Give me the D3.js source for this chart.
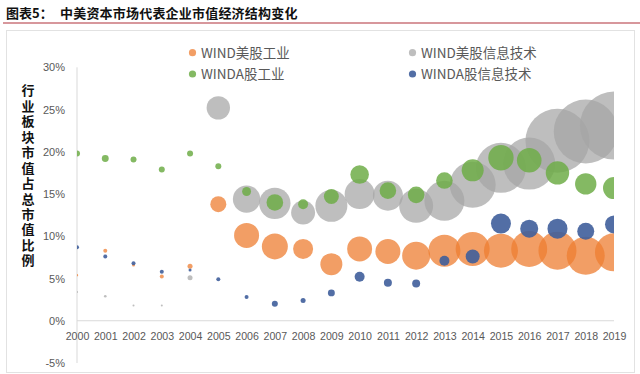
<!DOCTYPE html>
<html><head><meta charset="utf-8">
<script src="https://cdn.jsdelivr.net/npm/d3@7"></script>
<style>
body{margin:0;background:#fff;}
svg{display:block;}
</style></head>
<body>
<svg id="chart" width="640" height="374"></svg>
<script>
// ---- data ----
const years = [2000,2001,2002,2003,2004,2005,2006,2007,2008,2009,2010,2011,2012,2013,2014,2015,2016,2017,2018,2019];
const yTicks = [-5,0,5,10,15,20,25,30];
const seriesNames = ["WIND美股工业","WIND美股信息技术","WINDA股工业","WINDA股信息技术"];
const seriesColors = ["#ED7D31","#A5A5A5","#6EAD48","#3F5E9B"];
// share of total market cap (%)
const usIndustry = [5.4,8.3,6.6,5.25,6.45,13.8,10.1,8.8,8.5,6.7,8.5,8.2,7.7,8.3,8.5,8.3,8.5,8.3,7.7,8.1];
const usIT       = [3.4,2.9,1.8,1.8,5.1,25.2,14.4,13.9,12.8,13.6,15.0,14.8,13.6,14.2,16.1,18.1,18.6,21.3,22.4,23.1];
const aIndustry  = [19.8,19.2,19.1,17.9,19.8,18.3,15.3,14.0,13.8,14.7,17.3,15.4,14.9,16.6,17.8,19.3,19.0,17.5,16.2,15.7];
const aIT        = [8.7,7.6,6.8,5.8,6.0,4.9,2.8,2.0,2.4,3.3,5.2,4.5,4.4,7.1,7.6,11.5,10.9,10.9,10.6,11.4];
// bubble size (relative market cap)
const usIndustrySize = [1.4,4,2.3,4,6.3,64,156,169,100,121,156,156,196,256,289,289,324,361,361,361];
const usITSize       = [1,1.7,1,1,6.3,137,188,246,144,256,225,225,289,400,529,625,676,1024,1024,1156];
const aIndustrySize  = [9,12,9,9,9,9,20,69,25,56,86,69,69,69,121,161,151,137,114,121];
const aITSize        = [4,4,4,4,2.3,4,4,9,6.3,12,25,16,16,25,49,100,81,100,72,81];
const yTitle = "行业板块市值占总市值比例";

const seriesValues = [usIndustry, usIT, aIndustry, aIT];
const seriesSizes = [usIndustrySize, usITSize, aIndustrySize, aITSize];

// ---- layout ----
const svg = d3.select("#chart");
const plot = {left:77, right:614, top:67.3, bottom:363};

const x = d3.scaleLinear().domain([2000,2019]).range([plot.left, plot.right]);
const y = d3.scaleLinear().domain([-5,30]).range([plot.bottom, plot.top]);
const r = d3.scaleSqrt().domain([0,1156]).range([0,34]);

const cjk = "'Noto Sans CJK SC','Noto Sans',sans-serif";
const latin = "'Liberation Sans',Arial,sans-serif";

// title
svg.append("text").attr("x",6).attr("y",18)
  .attr("font-family",cjk).attr("font-weight",700).attr("font-size",13).attr("fill","#111")
  .text("图表5：");
svg.append("text").attr("x",60).attr("y",18)
  .attr("font-family",cjk).attr("font-weight",700).attr("font-size",13).attr("fill","#111")
  .attr("letter-spacing",0.2)
  .text("中美资本市场代表企业市值经济结构变化");
svg.append("line").attr("x1",3).attr("x2",640).attr("y1",23).attr("y2",23)
  .attr("stroke","#b0303a").attr("stroke-width",1.2);

// frame
svg.append("rect").attr("x",6.5).attr("y",30.5).attr("width",628).attr("height",342)
  .attr("fill","none").attr("stroke","#e2e2e2").attr("stroke-width",1);

// clip
svg.append("clipPath").attr("id","plotclip").append("rect")
  .attr("x",plot.left).attr("y",plot.top-40).attr("width",plot.right-plot.left).attr("height",plot.bottom-plot.top+40);

// axes lines
svg.append("line").attr("x1",x(2000)).attr("x2",x(2000)).attr("y1",y(30)).attr("y2",y(-5))
  .attr("stroke","#d9d9d9").attr("stroke-width",1);
svg.append("line").attr("x1",x(2000)).attr("x2",x(2019)).attr("y1",y(0)).attr("y2",y(0))
  .attr("stroke","#d9d9d9").attr("stroke-width",1);

// y axis via d3.axisLeft
const yAxis = d3.axisLeft(y).tickValues(yTicks).tickFormat(d=>d+"%").tickSize(0).tickPadding(12);
const gy = svg.append("g").attr("transform",`translate(${plot.left},0)`).call(yAxis);
gy.select(".domain").remove();
gy.selectAll("text").attr("font-family",latin).attr("font-size",11).attr("fill","#595959");

// x axis labels at 0% line
const xAxis = d3.axisBottom(x).tickValues(years).tickFormat(d=>String(d)).tickSize(0).tickPadding(12);
const gx = svg.append("g").attr("transform",`translate(0,${y(0)})`).call(xAxis);
gx.select(".domain").remove();
gx.selectAll("text").attr("font-family",latin).attr("font-size",10.6).attr("fill","#595959");

// y axis title (vertical)
svg.append("text")
  .attr("x",28).attr("y",84)
  .style("writing-mode","vertical-rl")
  .attr("font-family",cjk).attr("font-weight",700).attr("font-size",13).attr("fill","#111")
  .attr("letter-spacing",2.45)
  .text(yTitle);

// bubbles
const opac = [0.75,0.72,0.85,0.9];
const gb = svg.append("g").attr("clip-path","url(#plotclip)");
seriesValues.forEach((vals,si)=>{
  const pts = years.map((yr,i)=>({yr, v:vals[i], s:seriesSizes[si][i]}));
  gb.append("g").selectAll("circle").data(pts).join("circle")
    .attr("cx",d=>x(d.yr)).attr("cy",d=>y(d.v)).attr("r",d=>r(d.s))
    .attr("fill",seriesColors[si]).attr("fill-opacity",opac[si]);
});

// legend
const legPos = [[192.5,52.7],[412.5,52.7],[192.5,74],[412.5,74]];
const lg = svg.append("g");
seriesNames.forEach((n,i)=>{
  const [lx,ly] = legPos[i];
  lg.append("circle").attr("cx",lx).attr("cy",ly).attr("r",3.6)
    .attr("fill",seriesColors[i]).attr("fill-opacity",opac[i]);
  lg.append("text").attr("x",lx+8.5).attr("y",ly+4.8)
    .attr("font-family",cjk).attr("font-size",13.5).attr("fill","#595959").text(n);
});
</script>
</body></html>
